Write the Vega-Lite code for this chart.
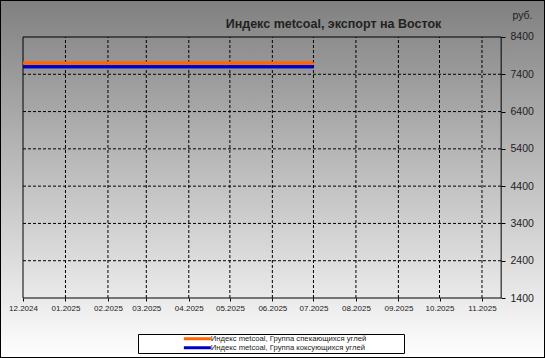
{
  "$schema": "https://vega.github.io/schema/vega-lite/v6.json",
  "width": 545,
  "height": 358,
  "autosize": {"type": "none"},
  "padding": 0,
  "background": "#ffffff",
  "config": {
    "font": "Liberation Sans",
    "view": {
      "fill": {"gradient": "linear", "x1": 0, "y1": 0, "x2": 0, "y2": 1,
        "stops": [{"offset": 0, "color": "#808080"}, {"offset": 1, "color": "#ffffff"}]},
      "stroke": "#000000",
      "strokeWidth": 2
    }
  },
  "title": {
    "text": "Индекс metcoal, экспорт на Восток",
    "fontSize": 12.5,
    "fontWeight": "bold",
    "color": "#222222",
    "anchor": "middle",
    "frame": "group",
    "baseline": "middle",
    "offset": 0,
    "dx": 61,
    "dy": 36
  },
  "datasets": {
    "series": [
      {"date": "2024-12-01", "value": 7700, "series": "Индекс metcoal, Группа спекающихся углей"},
      {"date": "2025-01-01", "value": 7700, "series": "Индекс metcoal, Группа спекающихся углей"},
      {"date": "2025-02-01", "value": 7700, "series": "Индекс metcoal, Группа спекающихся углей"},
      {"date": "2025-03-01", "value": 7700, "series": "Индекс metcoal, Группа спекающихся углей"},
      {"date": "2025-04-01", "value": 7700, "series": "Индекс metcoal, Группа спекающихся углей"},
      {"date": "2025-05-01", "value": 7700, "series": "Индекс metcoal, Группа спекающихся углей"},
      {"date": "2025-06-01", "value": 7700, "series": "Индекс metcoal, Группа спекающихся углей"},
      {"date": "2025-07-01", "value": 7700, "series": "Индекс metcoal, Группа спекающихся углей"},
      {"date": "2024-12-01", "value": 7600, "series": "Индекс metcoal, Группа коксующихся углей"},
      {"date": "2025-01-01", "value": 7600, "series": "Индекс metcoal, Группа коксующихся углей"},
      {"date": "2025-02-01", "value": 7600, "series": "Индекс metcoal, Группа коксующихся углей"},
      {"date": "2025-03-01", "value": 7600, "series": "Индекс metcoal, Группа коксующихся углей"},
      {"date": "2025-04-01", "value": 7600, "series": "Индекс metcoal, Группа коксующихся углей"},
      {"date": "2025-05-01", "value": 7600, "series": "Индекс metcoal, Группа коксующихся углей"},
      {"date": "2025-06-01", "value": 7600, "series": "Индекс metcoal, Группа коксующихся углей"},
      {"date": "2025-07-01", "value": 7600, "series": "Индекс metcoal, Группа коксующихся углей"}
    ],
    "months": [
      {"date": "2025-01-01"}, {"date": "2025-02-01"}, {"date": "2025-03-01"}, {"date": "2025-04-01"},
      {"date": "2025-05-01"}, {"date": "2025-06-01"}, {"date": "2025-07-01"}, {"date": "2025-08-01"},
      {"date": "2025-09-01"}, {"date": "2025-10-01"}, {"date": "2025-11-01"}
    ],
    "levels": [
      {"value": 2400}, {"value": 3400}, {"value": 4400}, {"value": 5400}, {"value": 6400}, {"value": 7400}
    ]
  },
  "layer": [
    {
      "data": {"name": "series"},
      "mark": {"type": "line", "strokeWidth": 3, "interpolate": "linear"},
      "encoding": {
        "x": {"field": "date", "type": "temporal",
          "scale": {"type": "utc", "domain": [{"year": 2024, "month": 11, "date": 14, "hours": 5, "utc": true}, {"year": 2025, "month": 12, "date": 17, "utc": true}]},
          "axis": {
            "orient": "bottom", "offset": -60, "domain": false, "grid": false,
            "values": [
              {"year": 2024, "month": 12, "date": 1, "utc": true},
              {"year": 2025, "month": 1, "date": 1, "utc": true},
              {"year": 2025, "month": 2, "date": 1, "utc": true},
              {"year": 2025, "month": 3, "date": 1, "utc": true},
              {"year": 2025, "month": 4, "date": 1, "utc": true},
              {"year": 2025, "month": 5, "date": 1, "utc": true},
              {"year": 2025, "month": 6, "date": 1, "utc": true},
              {"year": 2025, "month": 7, "date": 1, "utc": true},
              {"year": 2025, "month": 8, "date": 1, "utc": true},
              {"year": 2025, "month": 9, "date": 1, "utc": true},
              {"year": 2025, "month": 10, "date": 1, "utc": true},
              {"year": 2025, "month": 11, "date": 1, "utc": true}
            ],
            "format": "%m.%Y",
            "labelExpr": "utcFormat(datum.value, '%m.%Y')",
            "labelFontSize": 8, "labelColor": "#222222", "labelPadding": 3,
            "labelFlush": false, "labelOverlap": false,
            "tickSize": 3, "tickColor": "#000000", "title": null
          }
        },
        "y": {"field": "value", "type": "quantitative",
          "scale": {"domain": [-209, 9392], "nice": false, "zero": false},
          "axis": {
            "orient": "right", "offset": -44, "domain": false, "grid": false,
            "values": [1400, 2400, 3400, 4400, 5400, 6400, 7400, 8400],
            "format": "d",
            "labelFontSize": 10.5, "labelColor": "#222222", "labelPadding": 5,
            "labelFlush": false, "labelOverlap": false,
            "tickSize": 4, "tickColor": "#000000",
            "title": "руб.", "titleAngle": 0, "titleX": 21, "titleY": 15,
            "titleFontSize": 10.5, "titleFontWeight": "normal", "titleColor": "#222222",
            "titleAlign": "center", "titleBaseline": "middle"
          }
        },
        "color": {"field": "series", "type": "nominal",
          "scale": {"domain": ["Индекс metcoal, Группа спекающихся углей", "Индекс metcoal, Группа коксующихся углей"], "range": ["#ff6600", "#0000cc"]},
          "legend": {
            "orient": "none", "legendX": 138, "legendY": 334, "title": null,
            "fillColor": "#ffffff", "strokeColor": "#000000", "padding": 1,
            "symbolType": "M-6.75,0H6.75", "symbolSize": 16, "symbolStrokeWidth": 3,
            "symbolOffset": 54.5, "labelOffset": 9.5, "labelFontSize": 7.7, "labelColor": "#222222",
            "rowPadding": 0, "clipHeight": 7.5, "labelLimit": 0,
            "labelExpr": "datum.label + '\u00a0\u00a0\u00a0\u00a0\u00a0\u00a0\u00a0\u00a0\u00a0\u00a0\u00a0\u00a0\u00a0\u00a0\u2800'"
          }
        }
      }
    },
    {
      "data": {"name": "months"},
      "mark": {"type": "rule", "color": "#000000", "strokeWidth": 1, "strokeDash": [3, 2]},
      "encoding": {
        "x": {"field": "date", "type": "temporal", "axis": {"format": "%m.%Y", "labelExpr": "utcFormat(datum.value, '%m.%Y')"}},
        "y": {"datum": 1400, "type": "quantitative"},
        "y2": {"datum": 8400}
      }
    },
    {
      "data": {"name": "levels"},
      "mark": {"type": "rule", "color": "#000000", "strokeWidth": 1, "strokeDash": [3, 2]},
      "encoding": {
        "y": {"field": "value", "type": "quantitative"},
        "x": {"datum": {"year": 2024, "month": 12, "date": 1, "utc": true}, "type": "temporal", "axis": {"format": "%m.%Y", "labelExpr": "utcFormat(datum.value, '%m.%Y')"}},
        "x2": {"datum": {"year": 2025, "month": 11, "date": 15, "utc": true}}
      }
    },
    {
      "data": {"values": [{}]},
      "mark": {"type": "rect", "fill": null, "fillOpacity": 0, "stroke": "#000000", "strokeWidth": 1},
      "encoding": {
        "x": {"datum": {"year": 2024, "month": 12, "date": 1, "utc": true}, "type": "temporal", "axis": {"format": "%m.%Y", "labelExpr": "utcFormat(datum.value, '%m.%Y')"}},
        "x2": {"datum": {"year": 2025, "month": 11, "date": 15, "utc": true}},
        "y": {"datum": 1400, "type": "quantitative"},
        "y2": {"datum": 8400}
      }
    },
    {
      "data": {"name": "series"},
      "mark": {"type": "line", "strokeWidth": 3, "interpolate": "linear"},
      "encoding": {
        "x": {"field": "date", "type": "temporal", "axis": {"format": "%m.%Y", "labelExpr": "utcFormat(datum.value, '%m.%Y')"}},
        "y": {"field": "value", "type": "quantitative"},
        "color": {"field": "series", "type": "nominal"}
      }
    }
  ]
}
